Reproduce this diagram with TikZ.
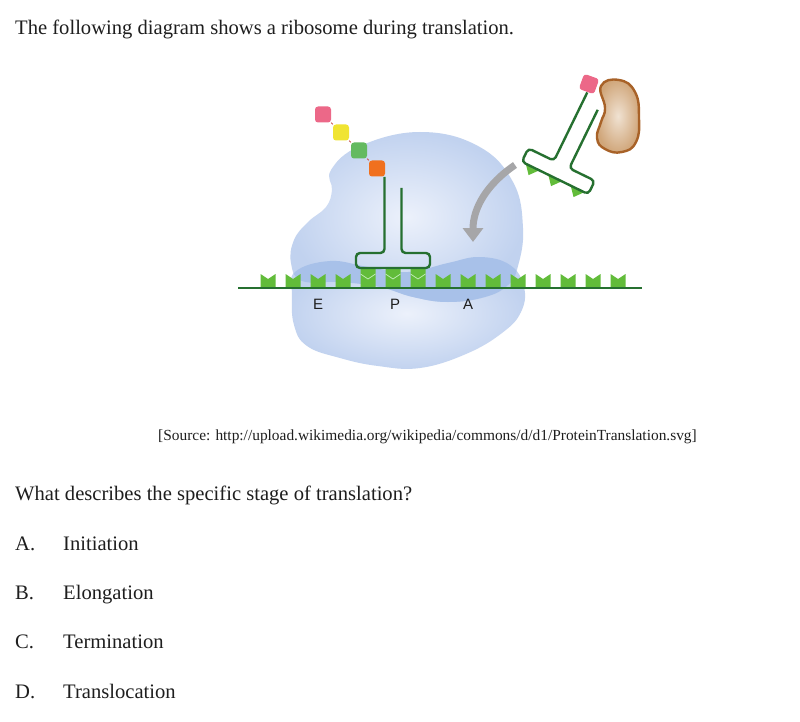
\documentclass[tikz,border=0pt]{standalone}
\usepackage{fontspec}
\setmainfont{Liberation Serif}
\newfontfamily\sitefont{Liberation Sans}
\usetikzlibrary{arrows.meta}

\definecolor{ribolight}{RGB}{236,241,251}
\definecolor{ribo}{RGB}{193,210,239}
\definecolor{ribodark}{RGB}{168,193,233}
\definecolor{rnadark}{RGB}{38,112,48}
\definecolor{codongreen}{RGB}{98,188,58}
\definecolor{codonpale}{RGB}{190,235,180}
\definecolor{aapink}{RGB}{236,104,136}
\definecolor{aayellow}{RGB}{240,228,50}
\definecolor{aagreen}{RGB}{100,186,96}
\definecolor{aaorange}{RGB}{240,112,30}
\definecolor{linkred}{RGB}{200,80,80}
\definecolor{arrowgrey}{RGB}{166,166,168}
\definecolor{factortan}{RGB}{240,226,210}
\definecolor{factoredge}{RGB}{208,166,122}
\definecolor{factorline}{RGB}{168,98,40}
\definecolor{inkgrey}{RGB}{30,30,30}

\tikzset{
  trnaline/.style={draw=rnadark, line width=2.4pt, rounded corners=4pt},
  codon/.style={fill=codongreen},
  aa/.style={minimum size=16pt, inner sep=0pt, rounded corners=3pt},
  link/.style={draw=linkred, line width=0.8pt},
  textline/.style={anchor=base west, inner sep=0pt, text=inkgrey, font=\fontsize{20.6}{24}\selectfont},
  site/.style={anchor=base, inner sep=0pt, text=inkgrey, font=\sitefont\fontsize{15}{18}\selectfont},
}

% outlines of the two subunits
\newcommand{\uppersub}{plot[smooth cycle, tension=0.7] coordinates {(331,170) (360,146) (420,132) (478,146) (513,182) (523,228) (518,266) (508,285) (485,297) (448,302) (413,297) (380,287) (340,282) (302,281) (291,263) (294,240) (308,222) (326,207) (332,190)}}
\newcommand{\lowersub}{plot[smooth cycle, tension=0.7] coordinates {(295,272) (330,261) (368,267) (408,272) (448,263) (480,257) (510,265) (524,287) (521,312) (502,333) (466,354) (420,368) (378,366) (340,358) (307,346) (294,325) (292,295)}}

\begin{document}
\begin{tikzpicture}[x=1pt, y=-1pt]
  \useasboundingbox (0,0) rectangle (800,722);
  \fill[white] (0,0) rectangle (800,722);

  % ribosome
  \shade[inner color=ribolight, outer color=ribo] \lowersub;
  \shade[inner color=ribolight, outer color=ribo] \uppersub;
  \begin{scope}
    \clip \uppersub;
    \fill[ribodark] \lowersub;
  \end{scope}

  % mRNA with codons
  \foreach \i in {0,...,14}
    \fill[codon] ({260.5+25*\i},287) -- ++(0,-13) -- ++(7.5,5) -- ++(7.5,-5) -- ++(0,13) -- cycle;
  \draw[rnadark, line width=2pt] (238,287.7) -- (642,287.7);

  \node[site] (siteE) at (318,309) {E};
  \node[site] (siteP) at (395,309) {P};
  \node[site] (siteA) at (468,309) {A};

  % tRNA in the P site
  \begin{scope}[shift={(393,268)}]
    \foreach \c in {-25,0,25} {
      \fill[codon] (\c-7.5,0) -- (\c+7.5,0) -- (\c+7.5,6) -- (\c,11) -- (\c-7.5,6) -- cycle;
      \draw[codonpale, line width=0.8pt] (\c-7.5,6) -- (\c,11) -- (\c+7.5,6);
    }
    \draw[trnaline] (-8.5,-91) -- (-8.5,-15) -- (-37,-15) -- (-37,0) -- (37,0) -- (37,-15) -- (8.5,-15) -- (8.5,-80);
  \end{scope}

  % peptide chain
  \node[aa, fill=aapink] (aa1) at (323,114.5) {};
  \node[aa, fill=aayellow] (aa2) at (341,132.5) {};
  \node[aa, fill=aagreen] (aa3) at (359,150.5) {};
  \node[aa, fill=aaorange] (aa4) at (377,168.5) {};
  \draw[link] (aa1.south east) -- (aa2.north west);
  \draw[link] (aa2.south east) -- (aa3.north west);
  \draw[link] (aa3.south east) -- (aa4.north west);

  % incoming tRNA
  \coordinate (swingstart) at (515,165);
  \coordinate (swingend) at (473,242);
  \draw[arrowgrey, line width=7pt, -{Triangle[width=20pt,length=14pt]}]
    (swingstart) .. controls (487,184) and (473,208) .. (swingend);

  \shadedraw[inner color=factortan, outer color=factoredge, draw=factorline, line width=2.4pt]
    plot[smooth cycle, tension=0.8] coordinates {(601,86) (619,80) (635,92) (639,118) (636,142) (622,152) (605,149) (597,138) (601,122) (605,108)};

  \begin{scope}[shift={(555,178)}, rotate=-26]
    \foreach \c in {-25,0,25}
      \fill[codon] (\c-7.5,0) -- (\c+7.5,0) -- (\c,9) -- cycle;
    \draw[trnaline] (-8.5,-91) -- (-8.5,-15) -- (-37,-15) -- (-37,0) -- (37,0) -- (37,-15) -- (8.5,-15) -- (8.5,-80);
  \end{scope}
  \node[aa, fill=aapink, rotate=-20] (aa5) at (589,84) {};

  % text
  \node[textline] (intro) at (15,35) {The following diagram shows a ribosome during translation.};
  \node[anchor=base west, inner sep=0pt, text=inkgrey, font=\fontsize{15.4}{18}\selectfont] (source) at (158,440)
    {[Source: http://upload.wikimedia.org/wikipedia/commons/d/d1/ProteinTranslation.svg]};
  \node[textline] (question) at (15,500) {What describes the specific stage of translation?};
  \foreach \letter/\answer [count=\k from 0] in {A/Initiation, B/Elongation, C/Termination, D/Translocation} {
    \node[textline] (opt\letter) at (15,550+49.4*\k) {\letter.};
    \node[textline] (ans\letter) at (63,550+49.4*\k) {\answer};
  }
\end{tikzpicture}
\end{document}
